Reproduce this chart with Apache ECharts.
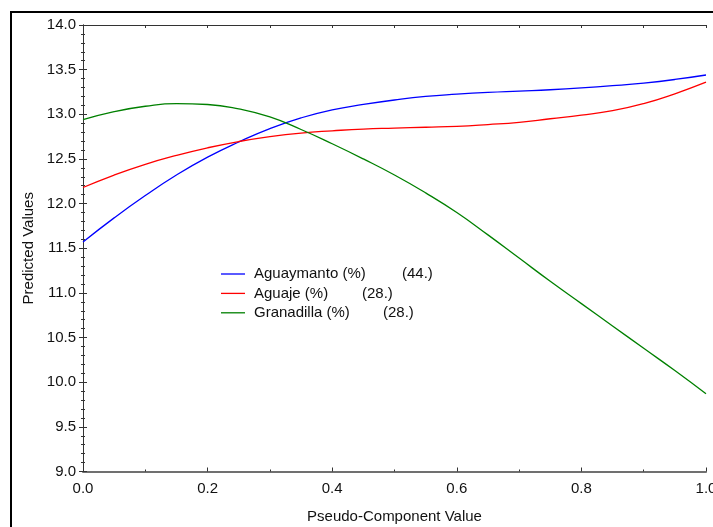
<!DOCTYPE html>
<html>
<head>
<meta charset="utf-8">
<script src="https://cdn.jsdelivr.net/npm/echarts@6/dist/echarts.min.js"></script>
<style>
html,body{margin:0;padding:0;background:#fff;}
#chart{width:713px;height:527px;}
</style>
</head>
<body>
<div id="chart"></div>
<script>
// Pseudo-component values (x)
var xValues = [0, 0.05, 0.1, 0.15, 0.2, 0.25, 0.3, 0.35, 0.4, 0.45, 0.5, 0.55, 0.6, 0.65, 0.7, 0.75, 0.8, 0.85, 0.9, 0.95, 1.0];
var aguaymanto = [11.57, 11.84, 12.09, 12.32, 12.52, 12.69, 12.84, 12.96, 13.05, 13.11, 13.16, 13.20, 13.225, 13.245, 13.26, 13.275, 13.295, 13.32, 13.35, 13.39, 13.44];
var aguaje = [12.18, 12.32, 12.44, 12.54, 12.625, 12.695, 12.75, 12.79, 12.815, 12.835, 12.845, 12.855, 12.865, 12.885, 12.91, 12.95, 12.99, 13.04, 13.12, 13.23, 13.36];
var granadilla = [12.94, 13.03, 13.09, 13.12, 13.11, 13.06, 12.97, 12.83, 12.67, 12.50, 12.32, 12.12, 11.90, 11.65, 11.39, 11.13, 10.88, 10.63, 10.38, 10.13, 9.87];
var seriesNames = ['Aguaymanto (%)', 'Aguaje (%)', 'Granadilla (%)'];
var legendValues = ['(44.)', '(28.)', '(28.)'];
var seriesColors = ['#0000ff', '#ff0000', '#008000'];
var xTitle = 'Pseudo-Component Value';
var yTitle = 'Predicted Values';

function pairs(arr) { return xValues.map(function (x, i) { return [x, arr[i]]; }); }
var allData = [aguaymanto, aguaje, granadilla];

var font = 'Liberation Sans, Arial, sans-serif';
var chart = echarts.init(document.getElementById('chart'));
var nameWidths = [148, 108, 129];
var rich = { v: { fontSize: 15, lineHeight: 14, fontFamily: font, color: '#111' } };
nameWidths.forEach(function (w, i) { rich['n' + i] = { width: w, lineHeight: 14, fontSize: 15, fontFamily: font, color: '#111' }; });

chart.setOption({
  backgroundColor: '#fff',
  animation: false,
  graphic: [{
    type: 'rect', silent: true,
    shape: { x: 11, y: 12, width: 720, height: 530 },
    style: { fill: 'none', stroke: '#000', lineWidth: 2 }
  }],
  grid: { left: 83, top: 25, right: 7, bottom: 55.5, containLabel: false, outerBoundsMode: 'none' },
  legend: {
    orient: 'vertical', left: 221, top: 266.5, padding: 0,
    itemWidth: 24, itemHeight: 14, itemGap: 4.4,
    icon: 'path://M0,0L24,0L24,1.3L0,1.3Z',
    data: seriesNames,
    formatter: function (name) {
      var i = seriesNames.indexOf(name);
      return '{n' + i + '|' + name + '}{v|' + legendValues[i] + '}';
    },
    textStyle: { fontSize: 15, lineHeight: 14, fontFamily: font, color: '#111', padding: [0, 0, 0, 4], rich: rich }
  },
  xAxis: [{
    type: 'value', min: 0, max: 1, interval: 0.2, position: 'bottom',
    name: xTitle, nameLocation: 'middle', nameGap: 38,
    nameTextStyle: { fontSize: 15, fontFamily: font, color: '#111' },
    axisLine: { show: true, lineStyle: { color: '#707070', width: 2 } },
    axisTick: { show: true, inside: true, length: 4, lineStyle: { color: '#333' } },
    minorTick: { show: true, splitNumber: 2, length: 2, lineStyle: { color: '#333' } },
    axisLabel: { fontSize: 15, fontFamily: font, color: '#111', margin: 10, formatter: function (v) { return v.toFixed(1); } },
    splitLine: { show: false }
  }, {
    type: 'value', min: 0, max: 1, interval: 0.1, position: 'top',
    axisLine: { show: true, lineStyle: { color: '#333', width: 1 } },
    axisTick: { show: true, inside: true, length: 3, lineStyle: { color: '#333' } },
    axisLabel: { show: false }, splitLine: { show: false }
  }],
  yAxis: [{
    type: 'value', min: 9, max: 14, interval: 0.5, position: 'left',
    name: yTitle, nameLocation: 'middle', nameGap: 46, nameRotate: 90,
    nameTextStyle: { fontSize: 15, fontFamily: font, color: '#111' },
    axisLine: { show: true, lineStyle: { color: '#333', width: 1 } },
    axisTick: { show: true, inside: true, length: 4, lineStyle: { color: '#333' } },
    minorTick: { show: true, splitNumber: 5, length: 2, lineStyle: { color: '#333' } },
    axisLabel: { fontSize: 15, fontFamily: font, color: '#111', margin: 7, formatter: function (v) { return v.toFixed(1); } },
    splitLine: { show: false }
  }, {
    type: 'value', min: 9, max: 14, interval: 0.5, position: 'right',
    axisLine: { show: true, lineStyle: { color: '#333', width: 1 } },
    axisTick: { show: true, inside: true, length: 4, lineStyle: { color: '#333' } },
    minorTick: { show: true, splitNumber: 5, length: 2, lineStyle: { color: '#333' } },
    axisLabel: { show: false }, splitLine: { show: false }
  }],
  series: seriesNames.map(function (n, i) {
    return {
      name: n, type: 'line', xAxisIndex: 0, yAxisIndex: 0,
      data: pairs(allData[i]), smooth: 0.5, showSymbol: false, symbol: 'none',
      lineStyle: { color: seriesColors[i], width: 1.3 }, itemStyle: { color: seriesColors[i] }
    };
  })
});
</script>
</body>
</html>
